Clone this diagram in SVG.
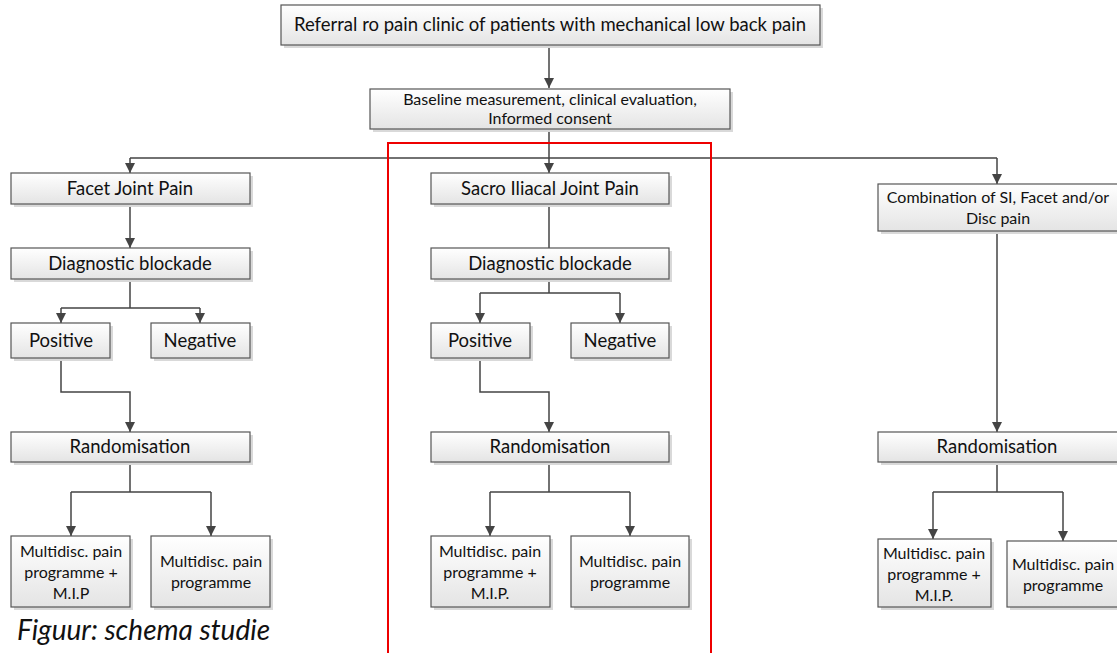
<svg xmlns="http://www.w3.org/2000/svg" width="1117" height="653" viewBox="0 0 1117 653">
<defs>
<linearGradient id="g" x1="0" y1="0" x2="0" y2="1">
<stop offset="0" stop-color="#ffffff"/>
<stop offset="1" stop-color="#e4e4e4"/>
</linearGradient>
<marker id="ah" viewBox="0 0 10 10" refX="10" refY="5" markerWidth="10" markerHeight="10" markerUnits="userSpaceOnUse" orient="auto">
<path d="M0,0 L10,5 L0,10 z" fill="#444"/>
</marker>
</defs>
<style>
.box{fill:url(#g);stroke:#555;stroke-width:1.2}
.sh{fill:#d9d9d9}
text{font-family:Lato,"Open Sans","Liberation Sans",sans-serif;fill:#111;text-anchor:middle}
.t16{font-size:18.5px}
.t14{font-size:16px}
.c{fill:none;stroke:#444;stroke-width:1.5}
.a{marker-end:url(#ah)}
</style>
<rect x="0" y="0" width="1117" height="653" fill="#fff"/>

<g id="connectors">
<path class="c a" d="M549,45 V88"/>
<path class="c" d="M549,129 V158 M130,158 H997"/>
<path class="c a" d="M130,158 V173"/>
<path class="c a" d="M549,158 V173"/>
<path class="c a" d="M997,158 V184"/>
<path class="c a" d="M130,204 V248"/>
<path class="c" d="M130,279 V308 M61,308 H200"/>
<path class="c a" d="M61,308 V323"/>
<path class="c a" d="M200,308 V323"/>
<path class="c a" d="M61,358 V392 H130 V432"/>
<path class="c" d="M130,462 V492 M71,492 H211"/>
<path class="c a" d="M71,492 V536"/>
<path class="c a" d="M211,492 V536"/>
<path class="c" d="M549,204 V248"/>
<path class="c" d="M549,279 V293 M480,293 H620"/>
<path class="c a" d="M480,293 V323"/>
<path class="c a" d="M620,293 V323"/>
<path class="c a" d="M480,358 V392 H549 V432"/>
<path class="c" d="M549,462 V492 M490,492 H630"/>
<path class="c a" d="M490,492 V536"/>
<path class="c a" d="M630,492 V536"/>
<path class="c a" d="M997,231 V432"/>
<path class="c" d="M997,462 V492 M933,492 H1063"/>
<path class="c a" d="M933,492 V539"/>
<path class="c a" d="M1063,492 V541"/>
</g>

<g id="n-referral"><rect class="sh" x="284" y="8" width="539" height="40"/><rect class="box" x="281" y="5" width="539" height="40"/><text class="t16" x="550" y="31">Referral ro pain clinic of patients with mechanical low back pain</text></g>
<g id="n-baseline"><rect class="sh" x="373" y="92" width="360" height="40"/><rect class="box" x="370" y="89" width="360" height="40"/><text class="t14" x="550" y="105">Baseline measurement, clinical evaluation,</text><text class="t14" x="550" y="124">Informed consent</text></g>

<g id="n-facet"><rect class="sh" x="14" y="176" width="239" height="31"/><rect class="box" x="11" y="173" width="239" height="31"/><text class="t16" x="130" y="195">Facet Joint Pain</text></g>
<g id="n-diag1"><rect class="sh" x="14" y="251" width="239" height="31"/><rect class="box" x="11" y="248" width="239" height="31"/><text class="t16" x="130" y="270">Diagnostic blockade</text></g>
<g id="n-pos1"><rect class="sh" x="14" y="326" width="99" height="35"/><rect class="box" x="11" y="323" width="99" height="35"/><text class="t16" x="61" y="347">Positive</text></g>
<g id="n-neg1"><rect class="sh" x="154" y="326" width="99" height="35"/><rect class="box" x="151" y="323" width="99" height="35"/><text class="t16" x="200" y="347">Negative</text></g>
<g id="n-rand1"><rect class="sh" x="14" y="435" width="239" height="30"/><rect class="box" x="11" y="432" width="239" height="30"/><text class="t16" x="130" y="453">Randomisation</text></g>
<g id="n-mip1"><rect class="sh" x="14" y="539" width="119" height="71"/><rect class="box" x="11" y="536" width="119" height="71"/><text class="t14" x="71" y="557">Multidisc. pain</text><text class="t14" x="71" y="578">programme +</text><text class="t14" x="71" y="599">M.I.P</text></g>
<g id="n-mdp1"><rect class="sh" x="154" y="539" width="119" height="71"/><rect class="box" x="151" y="536" width="119" height="71"/><text class="t14" x="211" y="567">Multidisc. pain</text><text class="t14" x="211" y="588">programme</text></g>

<g id="n-sacro"><rect class="sh" x="434" y="176" width="238" height="31"/><rect class="box" x="431" y="173" width="238" height="31"/><text class="t16" x="550" y="195">Sacro Iliacal Joint Pain</text></g>
<g id="n-diag2"><rect class="sh" x="434" y="251" width="238" height="31"/><rect class="box" x="431" y="248" width="238" height="31"/><text class="t16" x="550" y="270">Diagnostic blockade</text></g>
<g id="n-pos2"><rect class="sh" x="434" y="326" width="99" height="35"/><rect class="box" x="431" y="323" width="99" height="35"/><text class="t16" x="480" y="347">Positive</text></g>
<g id="n-neg2"><rect class="sh" x="574" y="326" width="98" height="35"/><rect class="box" x="571" y="323" width="98" height="35"/><text class="t16" x="620" y="347">Negative</text></g>
<g id="n-rand2"><rect class="sh" x="434" y="435" width="238" height="30"/><rect class="box" x="431" y="432" width="238" height="30"/><text class="t16" x="550" y="453">Randomisation</text></g>
<g id="n-mip2"><rect class="sh" x="434" y="539" width="119" height="71"/><rect class="box" x="431" y="536" width="119" height="71"/><text class="t14" x="490" y="557">Multidisc. pain</text><text class="t14" x="490" y="578">programme +</text><text class="t14" x="490" y="599">M.I.P.</text></g>
<g id="n-mdp2"><rect class="sh" x="574" y="539" width="118" height="71"/><rect class="box" x="571" y="536" width="118" height="71"/><text class="t14" x="630" y="567">Multidisc. pain</text><text class="t14" x="630" y="588">programme</text></g>

<g id="n-comb"><rect class="sh" x="881" y="187" width="245" height="47"/><rect class="box" x="878" y="184" width="245" height="47"/><text class="t14" x="998" y="203">Combination of SI, Facet and/or</text><text class="t14" x="998" y="224">Disc pain</text></g>
<g id="n-rand3"><rect class="sh" x="881" y="435" width="245" height="30"/><rect class="box" x="878" y="432" width="245" height="30"/><text class="t16" x="997" y="453">Randomisation</text></g>
<g id="n-mip3"><rect class="sh" x="881" y="542" width="113" height="68"/><rect class="box" x="878" y="539" width="113" height="68"/><text class="t14" x="934" y="559">Multidisc. pain</text><text class="t14" x="934" y="580">programme +</text><text class="t14" x="934" y="601">M.I.P.</text></g>
<g id="n-mdp3"><rect class="sh" x="1010" y="544" width="120" height="66"/><rect class="box" x="1007" y="541" width="120" height="66"/><text class="t14" x="1063" y="570">Multidisc. pain</text><text class="t14" x="1063" y="591">programme</text></g>

<rect id="highlight" x="388" y="143" width="323" height="520" fill="none" stroke="#e00" stroke-width="2"/>

<text id="caption" x="17" y="640" style="font-size:28px;font-style:italic;text-anchor:start">Figuur: schema studie</text>
</svg>
